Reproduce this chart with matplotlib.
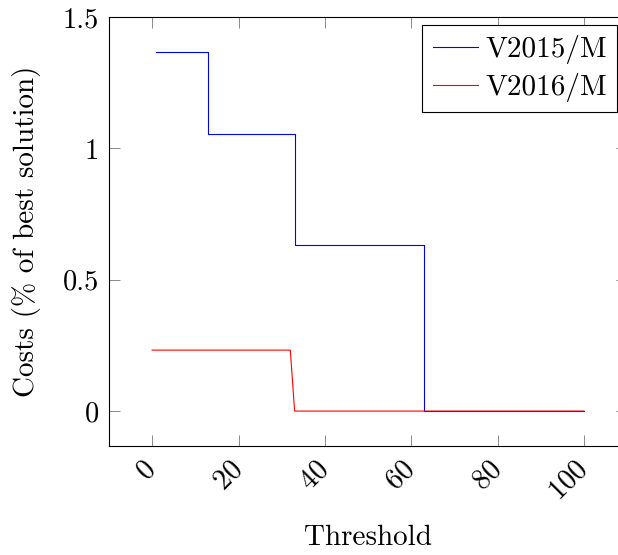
import matplotlib
matplotlib.use("Agg")
import matplotlib.pyplot as plt
import matplotlib.transforms as mtransforms

plt.rcParams['font.family'] = 'serif'
plt.rcParams['font.serif'] = ['cmr10', 'DejaVu Serif']
plt.rcParams['mathtext.fontset'] = 'cm'
plt.rcParams['axes.formatter.use_mathtext'] = True

# V2015/M step curve
x_2015 = [1, 13, 13, 33, 33, 63, 63, 100]
y_2015 = [1.368, 1.368, 1.055, 1.055, 0.632, 0.632, 0.0, 0.0]

# V2016/M curve
x_2016 = [0, 32, 33, 100]
y_2016 = [0.232, 0.232, 0.0, 0.0]

xticks = [0, 20, 40, 60, 80, 100]
yticks = [0, 0.5, 1, 1.5]
ytick_labels = ['0', '0.5', '1', '1.5']

fig = plt.figure(figsize=(6.18, 5.55), dpi=100)
ax = fig.add_axes([109 / 618, 109 / 555, 518 / 618, 429 / 555])

ax.plot(x_2015, y_2015, color='blue', lw=0.8, label='V2015/M')
ax.plot(x_2016, y_2016, color='red', lw=0.8, label='V2016/M')

ax.set_xlim(-10, 110)
ax.set_ylim(-0.133, 1.5)
ax.set_xticks(xticks)
ax.set_yticks(yticks)
ax.set_yticklabels(ytick_labels)

ax.tick_params(direction='in', length=8, width=0.6, color='#777777',
               top=True, right=True, labelsize=20.5, pad=7)
for sp in ax.spines.values():
    sp.set_linewidth(0.8)

# rotated x tick labels
offset = mtransforms.ScaledTranslation(13 / 100, 0, fig.dpi_scale_trans)
for lab in ax.get_xticklabels():
    lab.set_rotation(45)
    lab.set_rotation_mode('anchor')
    lab.set_ha('right')
    lab.set_va('center')
    lab.set_transform(lab.get_transform() + offset)
ax.tick_params(axis='x', pad=14)

ax.set_xlabel('Threshold', fontsize=21, labelpad=14)
ax.set_ylabel('Costs (% of best solution)', fontsize=21, labelpad=16)

leg = ax.legend(loc='upper right', bbox_to_anchor=(617 / 618, 530 / 555),
                bbox_transform=fig.transFigure,
                fontsize=21, frameon=True, fancybox=False, framealpha=1,
                edgecolor='black', handlelength=1.55, handletextpad=0.25,
                borderpad=0.35, labelspacing=0.3, borderaxespad=0.0)
leg.get_frame().set_linewidth(0.8)

fig.savefig('out.png', dpi=100)
